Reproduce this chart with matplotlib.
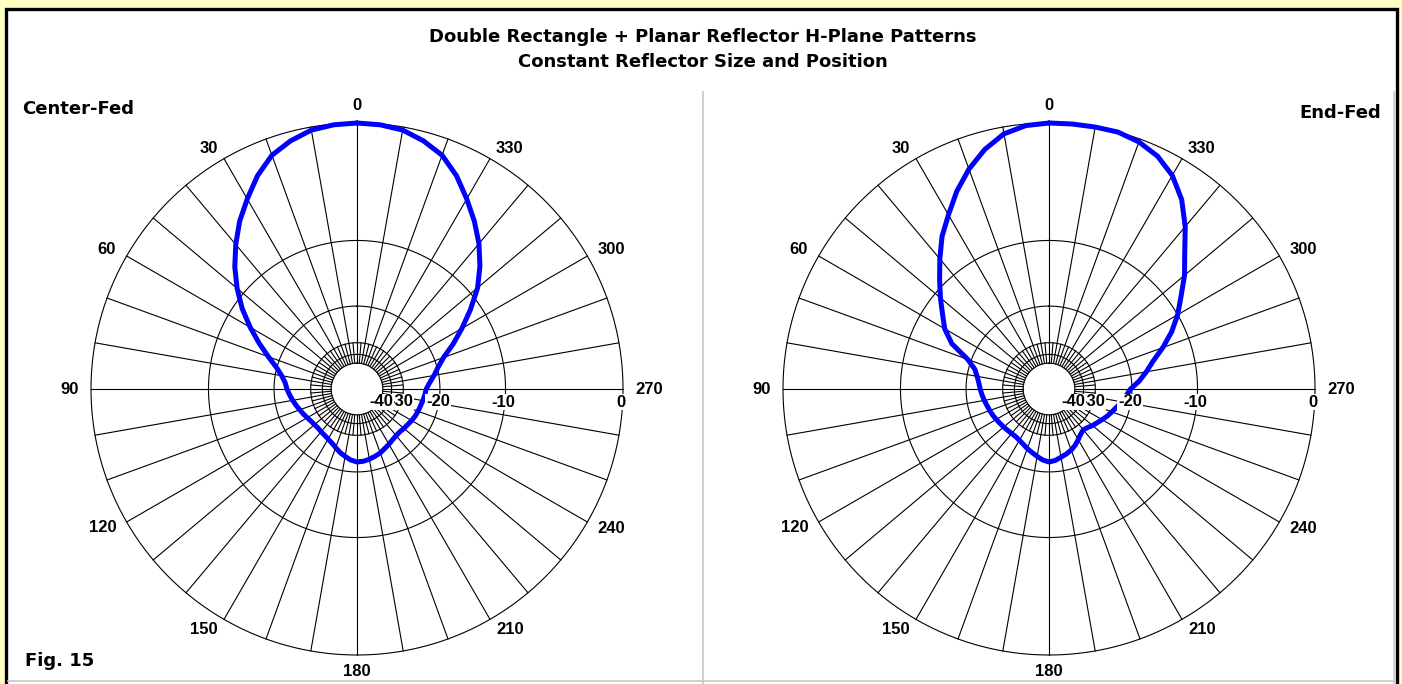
import numpy as np
import matplotlib
matplotlib.use("Agg")
import matplotlib.pyplot as plt
from matplotlib.patches import Rectangle
from matplotlib.lines import Line2D

# ---------------- data ----------------
title_lines = ["Double Rectangle + Planar Reflector H-Plane Patterns",
               "Constant Reflector Size and Position"]
panel_names = ["Center-Fed", "End-Fed"]
fig_label = "Fig. 15"

angle_ticks = [0, 30, 60, 90, 120, 150, 180, 210, 240, 270, 300, 330]
ring_db = [0, -10, -20, -30, -35, -40]
ring_labels = ["0", "-10", "-20", "-30", "-40"]
ring_label_db = [0, -10, -20, -30, -40]

pattern_deg = list(range(0, 361, 5))

center_fed_db = [0.0, -0.05, -0.2, -0.6, -1.15, -2.1, -3.3, -4.5, -5.9, -7.4,
                 -9.1, -11.0, -13.2, -15.5, -17.8, -19.9, -21.4, -22.4, -22.9, -23.5,
                 -24.1, -24.7, -25.3, -25.8, -26.3, -26.7, -26.9, -27.0, -26.8, -26.6,
                 -26.2, -25.7, -24.9, -24.0, -23.3, -22.6, -22.2, -22.3, -22.6, -23.0,
                 -23.4, -24.0, -24.5, -25.0, -25.3, -25.4, -25.2, -25.0, -24.7, -24.4,
                 -24.2, -24.0, -23.7, -23.4, -23.1, -22.2, -21.0, -19.8, -18.2, -15.8,
                 -13.5, -11.2, -9.0, -7.3, -5.8, -4.5, -3.3, -2.1, -1.15, -0.6,
                 -0.2, -0.05, 0.0]

end_fed_db = [0.0, -0.1, -0.45, -1.2, -2.2, -3.4, -4.8, -6.1, -7.7, -9.3,
              -10.8, -12.3, -13.6, -15.6, -19.3, -21.3, -22.2, -22.8, -23.2, -23.6,
              -24.0, -24.4, -24.7, -25.0, -25.3, -25.6, -25.8, -26.0, -26.1, -26.1,
              -25.8, -25.3, -24.6, -24.0, -23.3, -22.6, -22.2, -22.5, -23.1, -23.6,
              -24.2, -25.0, -26.0, -27.0, -27.6, -27.2, -26.5, -25.9, -25.2, -24.4,
              -23.7, -22.9, -22.0, -21.2, -20.3, -18.5, -17.0, -15.5, -13.5, -11.6,
              -10.0, -8.6, -7.0, -5.6, -3.9, -2.4, -1.3, -0.6, -0.2, 0.0,
              0.0, 0.0, 0.0]

# ---------------- styling ----------------
W, H = 1402, 684
YELLOW = "#FFFFC4"
BLUE = "#0000FF"
GRAY = "#C8C8C8"
WORD_FONT = ["DejaVu Sans"]
NUM_FONT = ["Liberation Sans", "DejaVu Sans"]
plt.rcParams["font.family"] = NUM_FONT


def arrl_fwd(db):
    db = np.asarray(db, dtype=float)
    return np.power(0.89, -db / 2.0)


def arrl_inv(r):
    r = np.asarray(r, dtype=float)
    with np.errstate(divide="ignore", invalid="ignore"):
        return -2.0 * np.log(np.clip(r, 1e-300, None)) / np.log(0.89)


fig = plt.figure(figsize=(W / 100, H / 100), dpi=100, facecolor=YELLOW)


def fx(x):
    return x / W


def fy(y):
    return 1 - y / H


# white panel with black frame (bottom edge outside the image)
fig.patches.append(Rectangle((fx(6), fy(720)), fx(1396.5) - fx(6), fy(8.5) - fy(720),
                             transform=fig.transFigure, facecolor="white",
                             edgecolor="black", linewidth=2.4, zorder=-5))
for xs, ys in [([703, 703], [92, 684]), ([1393.5, 1393.5], [92, 684]),
               ([8, 1394], [680.5, 680.5])]:
    fig.lines.append(Line2D([fx(v) for v in xs], [fy(v) for v in ys],
                            transform=fig.transFigure, color=GRAY, linewidth=1.2,
                            zorder=-4))

fig.text(fx(703), fy(37), title_lines[0], ha="center", va="center",
         fontsize=13, fontweight="bold", family=WORD_FONT)
fig.text(fx(703), fy(62), title_lines[1], ha="center", va="center",
         fontsize=13, fontweight="bold", family=WORD_FONT)
fig.text(fx(22), fy(109), panel_names[0], ha="left", va="center",
         fontsize=13, fontweight="bold", family=WORD_FONT)
fig.text(fx(1381), fy(113), panel_names[1], ha="right", va="center",
         fontsize=13, fontweight="bold", family=WORD_FONT)
fig.text(fx(25), fy(661), fig_label, ha="left", va="center",
         fontsize=13, fontweight="bold", family=WORD_FONT)

R = 266
centers = [(357, 389), (1049, 389)]
series = [center_fed_db, end_fed_db]

for (cx, cy), db in zip(centers, series):
    ax = fig.add_axes([fx(cx - R), fy(cy + R), 2 * R / W, 2 * R / H],
                      projection="polar")
    ax.set_facecolor("none")
    ax.set_theta_zero_location("N")
    ax.set_theta_direction(1)
    ax.set_rscale("function", functions=(arrl_fwd, arrl_inv))
    ax.set_rlim(-300, 0)
    ax.set_axis_off()

    th_full = np.linspace(0, 2 * np.pi, 721)
    for rdb in ring_db:
        ax.plot(th_full, np.full_like(th_full, rdb), color="black", lw=0.8,
                clip_on=False, zorder=1)
    for a in range(0, 360, 10):
        t = np.deg2rad(a)
        ax.plot([t, t], [-40, 0], color="black", lw=0.8, clip_on=False, zorder=1)
    for a in range(5, 360, 10):
        t = np.deg2rad(a)
        ax.plot([t, t], [-40, -30], color="black", lw=0.8, clip_on=False, zorder=1)

    ax.plot(np.deg2rad(pattern_deg), db, color=BLUE, lw=3.6, clip_on=False, zorder=3,
            solid_joinstyle="round", solid_capstyle="round")

    for lab, rdb in zip(ring_labels, ring_label_db):
        ax.annotate(lab, xy=(np.deg2rad(270), rdb), xytext=(-2, -13),
                    textcoords="offset pixels", ha="center", va="center",
                    fontsize=12, fontweight="bold", zorder=5, annotation_clip=False,
                    bbox=dict(boxstyle="square,pad=0.05", fc="white", ec="none"))

    for a in angle_ticks:
        t = np.deg2rad(a)
        if a in (0, 180):
            rr, ha = 283, "center"
        else:
            rr, ha = 278, ("right" if a < 180 else "left")
        ax.text(0.5 - rr * np.sin(t) / (2 * R), 0.5 + rr * np.cos(t) / (2 * R), str(a),
                transform=ax.transAxes, ha=ha, va="center",
                fontsize=12, fontweight="bold")

fig.savefig("out.png", dpi=100, facecolor=YELLOW)
